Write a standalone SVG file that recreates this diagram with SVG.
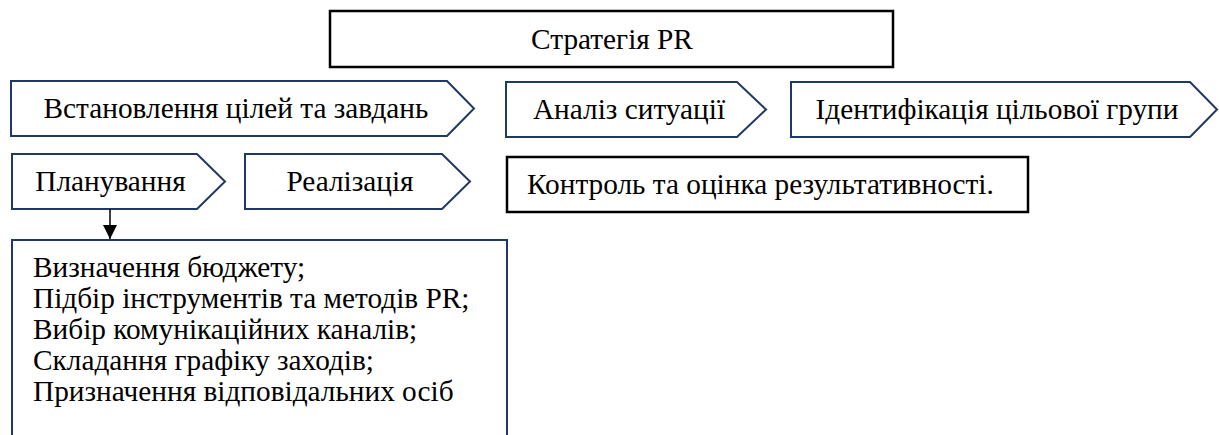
<svg xmlns="http://www.w3.org/2000/svg" width="1219" height="435" viewBox="0 0 1219 435">
<defs>
<style>
.t{font-size:29.3px;fill:#000}
.c{text-anchor:middle}
.blk{fill:#fff;stroke:#000;stroke-width:2.5}
.nav{fill:#fff;stroke:#1f3864;stroke-width:2}
.ln{stroke:#000;stroke-width:1.5;fill:none}
</style>
<marker id="ah" viewBox="0 0 14 14" refX="14" refY="7" markerWidth="14" markerHeight="14" markerUnits="userSpaceOnUse" orient="auto">
<path d="M0,0 L14,7 L0,14 z" fill="#000"/>
</marker>
</defs>
<rect width="1219" height="435" fill="#fff"/>
<g font-family="'Liberation Serif', Tinos, 'Times New Roman', 'DejaVu Serif', serif">
<g id="strategy">
<rect class="blk" x="330" y="11" width="563" height="56"/>
<text class="t c" x="612" y="49">Стратегія PR</text>
</g>
<g id="goals">
<polygon class="nav" points="11,81 447,81 474,108.5 447,136 11,136"/>
<text class="t c" x="236" y="118">Встановлення цілей та завдань</text>
</g>
<g id="analysis">
<polygon class="nav" points="506,82 737,82 766,109.5 737,137 506,137"/>
<text class="t c" x="629" y="119">Аналіз ситуації</text>
</g>
<g id="target">
<polygon class="nav" points="791,82 1190,82 1217,109.5 1190,137 791,137"/>
<text class="t c" x="997" y="119">Ідентифікація цільової групи</text>
</g>
<g id="planning">
<polygon class="nav" points="12,154 197,154 225,181.5 197,209 12,209"/>
<text class="t c" x="110.5" y="191">Планування</text>
</g>
<g id="realization">
<polygon class="nav" points="245,154 442,154 470,181.5 442,209 245,209"/>
<text class="t c" x="350" y="191">Реалізація</text>
</g>
<g id="control">
<rect class="blk" x="507" y="157" width="521" height="55"/>
<text class="t" x="527" y="194">Контроль та оцінка результативності.</text>
</g>
<g id="details">
<polyline class="nav" points="12,445 12,240 507,240 507,445"/>
<text class="t" x="33" y="277">Визначення бюджету;</text>
<text class="t" x="33" y="308">Підбір інструментів та методів PR;</text>
<text class="t" x="33" y="339">Вибір комунікаційних каналів;</text>
<text class="t" x="33" y="370">Складання графіку заходів;</text>
<text class="t" x="33" y="401">Призначення відповідальних осіб</text>
</g>
</g>
<g id="connectors">
<line class="ln" x1="110" y1="209" x2="110" y2="239" marker-end="url(#ah)"/>
</g>
</svg>
